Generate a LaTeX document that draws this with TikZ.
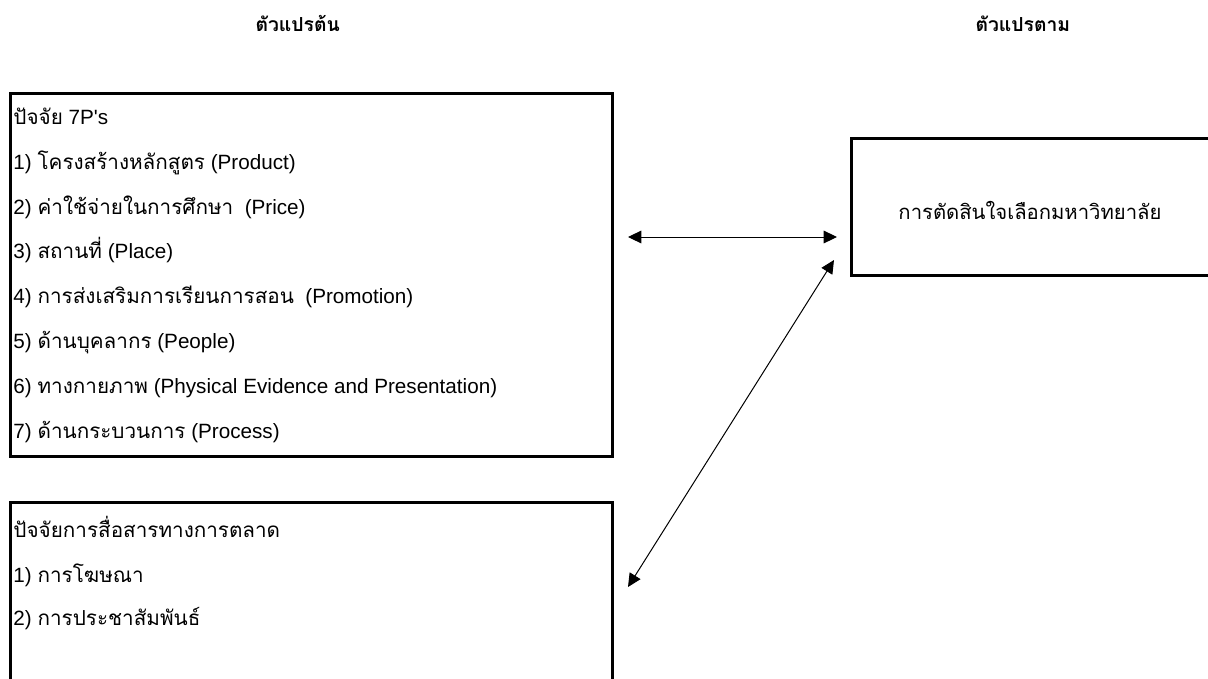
\documentclass[tikz,border=0pt]{standalone}
\usepackage{fontspec}
\setmainfont{Liberation Sans}
\newfontfamily\thai[Script=Thai]{Loma}
\usetikzlibrary{arrows.meta,fit}
\tikzset{
  frame/.style={draw,line width=2.25pt,inner sep=0pt},
  item/.style={anchor=base west,inner sep=0pt,font=\fontsize{15.5}{18}\selectfont},
  head/.style={anchor=base west,inner sep=0pt,font=\fontsize{14.5}{17}\selectfont\thai\bfseries}
}

\begin{document}
\begin{tikzpicture}[x=0.75pt,y=-0.75pt,>={Triangle[length=10pt,width=9.5pt]},line width=0.75pt]
      \useasboundingbox (0,0) rectangle (1208,679);
      % column titles
      \node[head] (indep) at (255,31) {ตัวแปรต้น};
      \node[head] (dep) at (975,31) {ตัวแปรตาม};

      % 7P's box
      \node[frame,fit={(10,93) (612,456)}] (pbox) {};
      \node[item] (p0) at (13,124) {{\thai ปัจจัย} 7P\textquotesingle s};
      \node[item] (p1) at (13,169) {1) {\thai โครงสร้างหลักสูตร} (Product)};
      \node[item] (p2) at (13,214) {2) {\thai ค่าใช้จ่ายในการศึกษา}\ \ (Price)};
      \node[item] (p3) at (13,258) {3) {\thai สถานที่} (Place)};
      \node[item] (p4) at (13,303) {4) {\thai การส่งเสริมการเรียนการสอน}\ \ (Promotion)};
      \node[item] (p5) at (13,348) {5) {\thai ด้านบุคลากร} (People)};
      \node[item] (p6) at (13,393) {6) {\thai ทางกายภาพ} (Physical Evidence and Presentation)};
      \node[item] (p7) at (13,438) {7) {\thai ด้านกระบวนการ} (Process)};

      % communication box
      \node[frame,fit={(10,502) (612,720)}] (cbox) {};
      \node[item] (c0) at (13,537) {{\thai ปัจจัยการสื่อสารทางการตลาด}};
      \node[item] (c1) at (13,582) {1) {\thai การโฆษณา}};
      \node[item] (c2) at (13,625) {2) {\thai การประชาสัมพันธ์}};

      % decision box
      \node[frame,fit={(851,138) (1230,275)}] (dbox) {};
      \node[font=\fontsize{15.2}{18}\selectfont\thai] (dtext) at (1030,210) {การตัดสินใจเลือกมหาวิทยาลัย};

      \coordinate (hl) at (628,237);
      \coordinate (hr) at (837,237);
      \coordinate (dl) at (628,587);
      \coordinate (dr) at (834,260);

      \draw[<->] (hl) -- (hr);
      \draw[<->] (dl) -- (dr);
    \end{tikzpicture}
\end{document}
